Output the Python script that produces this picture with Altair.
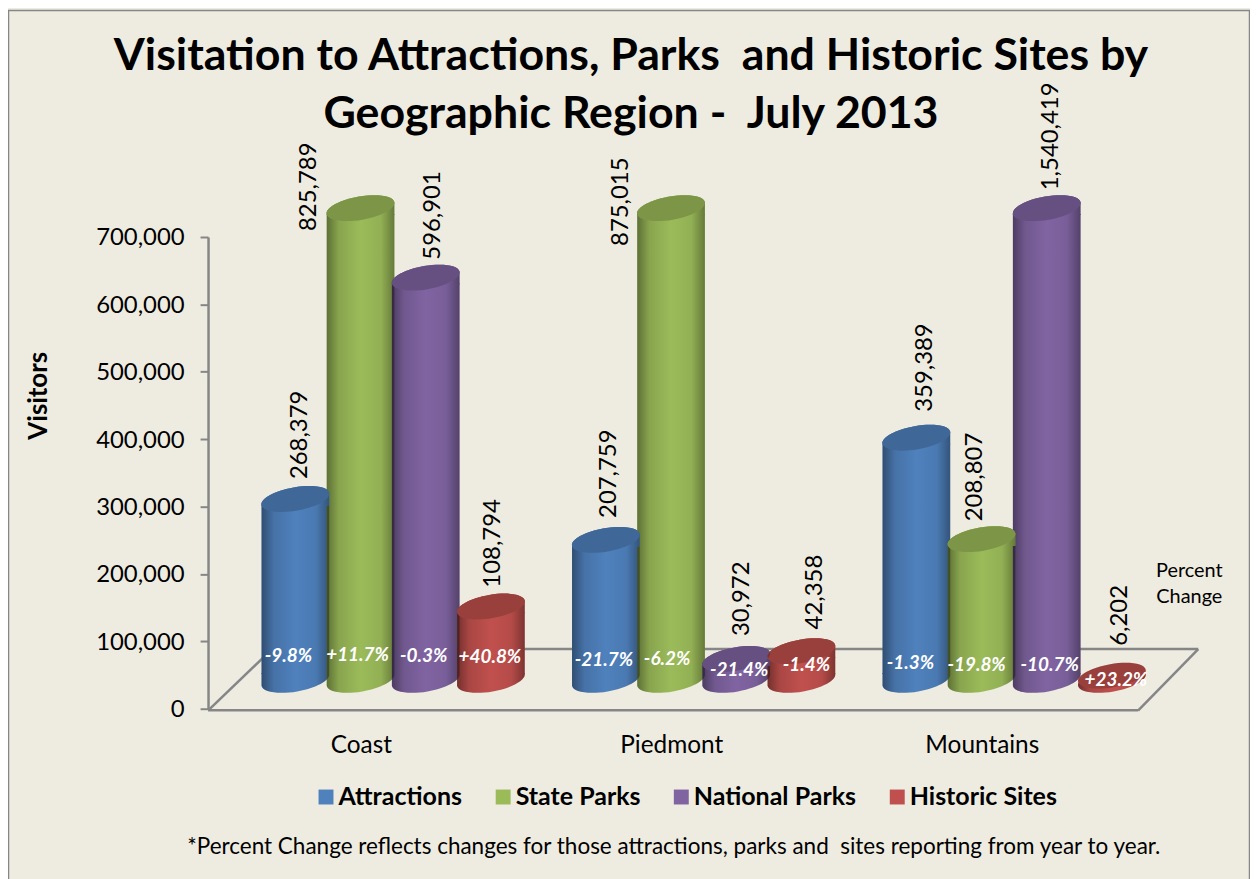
import altair as alt
import pandas as pd

regions = ["Coast", "Piedmont", "Mountains"]
series = ["Attractions", "State Parks", "National Parks", "Historic Sites"]
colors = ["#4F81BD", "#9BBB59", "#8064A2", "#C0504D"]
visitors = {
    "Coast": [268379, 825789, 596901, 108794],
    "Piedmont": [207759, 875015, 30972, 42358],
    "Mountains": [359389, 208807, 1540419, 6202],
}
percent = {
    "Coast": ["-9.8%", "+11.7%", "-0.3%", "+40.8%"],
    "Piedmont": ["-21.7%", "-6.2%", "-21.4%", "-1.4%"],
    "Mountains": ["-1.3%", "-19.8%", "-10.7%", "+23.2%"],
}
title_lines = ["Visitation to Attractions, Parks \u00a0and Historic Sites by",
               "Geographic Region - \u00a0July 2013"]
footnote = "*Percent Change reflects changes for those attractions, parks and \u00a0sites reporting from year to year."

rows = []
for r in regions:
    for s, v, p in zip(series, visitors[r], percent[r]):
        rows.append({"region": r, "series": s, "visitors": v, "pct": p, "base": 0,
                     "label": f"{v:,}"})
df = pd.DataFrame(rows)

FONT = "Lato"
AXIS_GRAY = "#868686"
DEPTH = -29
TILT = 6
SHIFT = 30
ELLIPSE = "M-1,.174A1,.34,-10,1,1,1,-.174A1,.34,-10,1,1,-1,.174Z"
FOOT = "M-1,-.2L-1,.174A1,.34,-10,0,0,1,-.174L1,-.2Z"
COLLAR = "M-1,.2L-1,.174A1,.34,-10,0,1,1,-.174L1,.2Z"
ELLIPSE_SIZE = 4624

# label nudges in pixels: (x from the cylinder centre, y from the value)
label_nudge = {
    "825,789": (-52, 23), "875,015": (-50, 38), "1,540,419": (4, -18),
    "596,901": (7, -18), "268,379": (5, -20), "108,794": (2, -19),
    "207,759": (3, -22), "30,972": (6, -23), "42,358": (14, -22),
    "359,389": (9, -26), "208,807": (-7, -18), "6,202": (8, -30),
}
pct_nudge = {
    "-9.8%": (-7, -53), "+11.7%": (-3, -54), "-0.3%": (-2, -53), "+40.8%": (-1, -52),
    "-21.7%": (-2, -49), "-6.2%": (-4, -50), "-21.4%": (3, -39), "-1.4%": (5, -44),
    "-1.3%": (-6, -46), "-19.8%": (-5, -44), "-10.7%": (3, -44), "+23.2%": (4, -29),
}

y_scale = alt.Scale(domain=[0, 700000], clamp=True, nice=False, zero=True)
y_axis = alt.Axis(
    values=list(range(0, 700001, 100000)), format=",d", grid=False, title="Visitors",
    domainColor=AXIS_GRAY, domainWidth=2.5, tickColor=AXIS_GRAY, tickWidth=2, tickSize=8,
    labelFont=FONT, labelFontSize=24, labelColor="black", labelPadding=16, labelOffset=1,
    titleFont=FONT, titleFontSize=26, titleFontWeight="bold", titleColor="black",
    titleX=-157, titleY=159,
)
x_axis = alt.Axis(
    title=None, labelAngle=0, ticks=False, domain=False, labelOffset=-32,
    labelFont=FONT, labelFontSize=24.5, labelColor="black", labelPadding=25,
)
x_enc = alt.X("region:N", sort=regions, axis=x_axis,
              scale=alt.Scale(paddingInner=0, paddingOuter=0, range=[SHIFT, 936 + SHIFT]))
off_enc = alt.XOffset("series:N", sort=series,
                      scale=alt.Scale(paddingInner=0, paddingOuter=0.382))
y_val = alt.Y("visitors:Q", scale=y_scale, axis=y_axis)
y_base = alt.Y("base:Q", scale=y_scale, axis=y_axis)
y2_base = alt.Y2("base:Q")
color_scale = alt.Scale(domain=series, range=colors)
color_enc = alt.Color(
    "series:N", sort=series, scale=color_scale,
    legend=alt.Legend(
        title=None, orient="none", legendX=106, legendY=550, direction="horizontal",
        columns=4, symbolType="square", symbolSize=225, symbolStrokeWidth=0,
        symbolOpacity=1, labelFont=FONT, labelFontSize=25.1, labelFontWeight="bold",
        labelColor="black", columnPadding=28, labelOffset=0, labelLimit=400,
    ),
)

shade = alt.Gradient(
    gradient="linear", x1=0, x2=1, y1=0, y2=0,
    stops=[
        alt.GradientStop(color="rgba(0,0,0,0.40)", offset=0),
        alt.GradientStop(color="rgba(0,0,0,0.12)", offset=0.18),
        alt.GradientStop(color="rgba(0,0,0,0)", offset=0.5),
        alt.GradientStop(color="rgba(0,0,0,0.06)", offset=0.8),
        alt.GradientStop(color="rgba(0,0,0,0.35)", offset=1),
    ],
)

base = alt.Chart(df)
tall = base.transform_filter(alt.datum.visitors > 20000)
small = base.transform_filter(alt.datum.visitors <= 20000)
one = alt.Chart(pd.DataFrame({"t": [title_lines[0]]}))


def rule(x, y, x2, y2):
    return one.mark_rule(color=AXIS_GRAY, strokeWidth=2.5).encode(
        x=alt.value(x), x2=alt.value(x2), y=alt.value(y), y2=alt.value(y2))


frame = one.mark_rect(fillOpacity=0, stroke=AXIS_GRAY, strokeWidth=1.5).encode(
    x=alt.value(-200.5), x2=alt.value(1046.5), y=alt.value(-227.5), y2=alt.value(700))

floor = [rule(1, 475, 64.5, 414), rule(64.5, 414, 995, 414), rule(995, 414, 934.5, 476),
         rule(0, 475.5, 934.5, 475.5)]

pos = dict(x=x_enc, xOffset=off_enc)


def sym(shape, **kw):
    return dict(shape=shape, size=ELLIPSE_SIZE, filled=True, opacity=1, strokeWidth=0,
                yOffset=DEPTH, **kw)


layers = [frame] + floor

layers += [
    # bottom of the tall cylinders and the whole base of the flat one
    tall.mark_point(**sym(FOOT)).encode(y=y_base, color=color_enc, **pos),
    tall.mark_point(**sym(FOOT), fill=shade).encode(y=y_base, **pos),
    small.mark_point(**sym(ELLIPSE)).encode(y=y_base, color=color_enc, **pos),
    small.mark_point(**sym(ELLIPSE), fill=shade).encode(y=y_base, **pos),
    # body
    tall.mark_bar(size=68, yOffset=DEPTH + TILT, y2Offset=DEPTH - TILT).encode(y=y_val, y2=y2_base, color=color_enc, **pos),
    tall.mark_bar(size=68, yOffset=DEPTH + TILT, y2Offset=DEPTH - TILT, fill=shade).encode(y=y_val, y2=y2_base, **pos),
    # collar under the top face
    tall.mark_point(**sym(COLLAR)).encode(y=y_val, color=color_enc, **pos),
    tall.mark_point(**sym(COLLAR), fill=shade).encode(y=y_val, **pos),
    # top face
    base.mark_point(**sym(ELLIPSE)).encode(y=y_val, color=color_enc, **pos),
    base.mark_point(**sym(ELLIPSE), fill="#000000", fillOpacity=0.2).encode(y=y_val, **pos),
]

for lab, (dx, dy) in label_nudge.items():
    layers.append(
        base.transform_filter(alt.datum.label == lab)
        .mark_text(angle=270, align="left", baseline="middle", font=FONT, fontSize=24,
                   color="black", dy=dx, yOffset=DEPTH + dy)
        .encode(y=y_val, text="label:N", **pos)
    )
for lab, (dx, dy) in pct_nudge.items():
    layers.append(
        base.transform_filter(alt.datum.pct == lab)
        .mark_text(align="center", baseline="middle", font=FONT, fontSize=19,
                   fontWeight="bold", fontStyle="italic", color="white",
                   dx=dx, yOffset=dy)
        .encode(y=y_base, text="pct:N", **pos)
    )

for word, py in zip(["Percent", "Change"], [336, 362]):
    layers.append(
        alt.Chart(pd.DataFrame({"t": [word]}))
        .mark_text(font=FONT, fontSize=20, color="black", align="center", baseline="middle")
        .encode(x=alt.value(986), y=alt.value(py), text="t:N")
    )
layers.append(
    alt.Chart(pd.DataFrame({"t": [footnote]}))
    .mark_text(font=FONT, fontSize=22.6, color="black", align="center", baseline="middle")
    .encode(x=alt.value(468), y=alt.value(613), text="t:N")
)

chart = (
    alt.layer(*layers)
    .properties(
        width=930, height=474,
        autosize=alt.AutoSizeParams(type="none"),
        padding={"left": 201, "top": 228, "right": 117, "bottom": 169},
        background="#EEECE1",
        title=alt.TitleParams(
            text=title_lines, font=FONT, fontSize=44.9, fontWeight="bold", color="black",
            anchor="middle", dx=-40, offset=-128.5, lineHeight=58,
        ),
    )
    .configure_view(stroke=None)
)
chart.save("out.html", embed_options={"renderer": "svg", "actions": False})
